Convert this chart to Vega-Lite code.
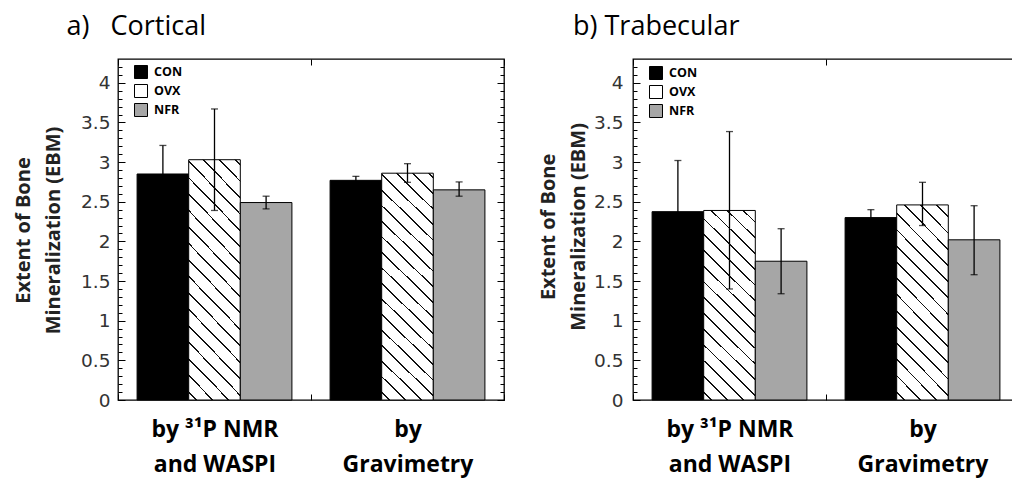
{
  "$schema": "https://vega.github.io/schema/vega-lite/v6.json",
  "autosize": {"type": "none"},
  "padding": {"left": 118, "top": 59, "right": 894, "bottom": 420},
  "bounds": "flush",
  "spacing": 129,
  "config": {
    "view": {"stroke": "#000", "strokeWidth": 1.3},
    "font": "Open Sans",
    "axis": {"grid": false, "domain": false}
  },
  "resolve": {"scale": {"fill": "independent", "x": "independent", "y": "independent", "xOffset": "independent"}, "legend": {"fill": "independent"}},
  "datasets": {
    "d": [
      {"panel": "a", "method": "by ³¹P NMR|and WASPI", "group": "CON", "value": 2.85, "lo": 2.49, "hi": 3.21},
      {"panel": "a", "method": "by ³¹P NMR|and WASPI", "group": "OVX", "value": 3.03, "lo": 2.39, "hi": 3.67},
      {"panel": "a", "method": "by ³¹P NMR|and WASPI", "group": "NFR", "value": 2.49, "lo": 2.41, "hi": 2.57},
      {"panel": "a", "method": "by|Gravimetry", "group": "CON", "value": 2.77, "lo": 2.72, "hi": 2.82},
      {"panel": "a", "method": "by|Gravimetry", "group": "OVX", "value": 2.86, "lo": 2.745, "hi": 2.98},
      {"panel": "a", "method": "by|Gravimetry", "group": "NFR", "value": 2.65, "lo": 2.57, "hi": 2.75},
      {"panel": "b", "method": "by ³¹P NMR|and WASPI", "group": "CON", "value": 2.375, "lo": 1.73, "hi": 3.02},
      {"panel": "b", "method": "by ³¹P NMR|and WASPI", "group": "OVX", "value": 2.39, "lo": 1.4, "hi": 3.385},
      {"panel": "b", "method": "by ³¹P NMR|and WASPI", "group": "NFR", "value": 1.75, "lo": 1.34, "hi": 2.16},
      {"panel": "b", "method": "by|Gravimetry", "group": "CON", "value": 2.3, "lo": 2.2, "hi": 2.4},
      {"panel": "b", "method": "by|Gravimetry", "group": "OVX", "value": 2.46, "lo": 2.2, "hi": 2.745},
      {"panel": "b", "method": "by|Gravimetry", "group": "NFR", "value": 2.02, "lo": 1.58, "hi": 2.45}
    ]
  },
  "hconcat": [
    {
      "width": 386,
      "height": 341,
      "title": {"text": "a)\u00a0\u00a0 Cortical", "anchor": "start", "frame": "group", "dx": -51.5, "fontSize": 27, "fontWeight": "normal", "font": "Open Sans", "color": "#000", "baseline": "alphabetic", "offset": -3},
      "data": {"name": "d"},
      "transform": [{"filter": "datum.panel === 'a'"}],
      "resolve": {"axis": {"x": "independent", "y": "independent"}},
      "layer": [
        {
          "mark": {"type": "bar", "stroke": "#000", "strokeWidth": 1},
          "encoding": {
            "x": {"field": "method", "type": "nominal", "sort": null, "scale": {"paddingInner": 0, "paddingOuter": 0},
              "axis": {"orient": "bottom", "title": null, "labelExpr": "split(datum.label, '|')", "labelAngle": 0, "labelFont": "Open Sans", "labelFontSize": 23, "labelFontWeight": "bold", "labelColor": "#000", "labelLineHeight": 35, "labelBaseline": "alphabetic", "labelPadding": 42, "tickBand": "extent", "tickSize": -6, "tickColor": "#000", "tickWidth": 1, "offset": 0}},
            "xOffset": {"field": "group", "type": "nominal", "sort": ["CON", "OVX", "NFR"], "scale": {"paddingInner": 0, "paddingOuter": 0.37}},
            "y": {"field": "value", "type": "quantitative", "scale": {"domain": [0, 4.3], "nice": false, "zero": true},
              "axis": {"orient": "left", "values": [0, 0.5, 1, 1.5, 2, 2.5, 3, 3.5, 4], "labelExpr": "'' + datum.value", "tickSize": -7, "tickColor": "#000", "tickWidth": 1, "labelFont": "DejaVu Sans", "labelFontSize": 18.5, "labelColor": "#333", "labelPadding": 15, "offset": 0,
                "title": ["Extent of Bone", "Mineralization (EBM)"], "titleFont": "Open Sans", "titleFontSize": 20, "titleFontWeight": "bold", "titleColor": "#222", "titleLineHeight": 30, "titleBaseline": "alphabetic", "titleAngle": -90, "titleAlign": "center", "titleX": -88.7, "titleY": 171}},
            "fill": {"field": "group", "type": "nominal",
              "condition": {"test": "datum.group === 'OVX'", "value": {"gradient": "linear", "x1": 0, "y1": 1, "x2": 0.2573, "y2": -0.1642, "stops": [
                  {"offset": 0, "color": "#fff"},
                  {"offset": 0.0249, "color": "#fff"}, {"offset": 0.0249, "color": "#111"}, {"offset": 0.0313, "color": "#111"}, {"offset": 0.0313, "color": "#fff"},
                  {"offset": 0.081, "color": "#fff"}, {"offset": 0.081, "color": "#111"}, {"offset": 0.0874, "color": "#111"}, {"offset": 0.0874, "color": "#fff"},
                  {"offset": 0.1372, "color": "#fff"}, {"offset": 0.1372, "color": "#111"}, {"offset": 0.1436, "color": "#111"}, {"offset": 0.1436, "color": "#fff"},
                  {"offset": 0.1933, "color": "#fff"}, {"offset": 0.1933, "color": "#111"}, {"offset": 0.1997, "color": "#111"}, {"offset": 0.1997, "color": "#fff"},
                  {"offset": 0.2494, "color": "#fff"}, {"offset": 0.2494, "color": "#111"}, {"offset": 0.2558, "color": "#111"}, {"offset": 0.2558, "color": "#fff"},
                  {"offset": 0.3056, "color": "#fff"}, {"offset": 0.3056, "color": "#111"}, {"offset": 0.312, "color": "#111"}, {"offset": 0.312, "color": "#fff"},
                  {"offset": 0.3617, "color": "#fff"}, {"offset": 0.3617, "color": "#111"}, {"offset": 0.3681, "color": "#111"}, {"offset": 0.3681, "color": "#fff"},
                  {"offset": 0.4179, "color": "#fff"}, {"offset": 0.4179, "color": "#111"}, {"offset": 0.4243, "color": "#111"}, {"offset": 0.4243, "color": "#fff"},
                  {"offset": 0.474, "color": "#fff"}, {"offset": 0.474, "color": "#111"}, {"offset": 0.4804, "color": "#111"}, {"offset": 0.4804, "color": "#fff"},
                  {"offset": 0.5301, "color": "#fff"}, {"offset": 0.5301, "color": "#111"}, {"offset": 0.5365, "color": "#111"}, {"offset": 0.5365, "color": "#fff"},
                  {"offset": 0.5863, "color": "#fff"}, {"offset": 0.5863, "color": "#111"}, {"offset": 0.5927, "color": "#111"}, {"offset": 0.5927, "color": "#fff"},
                  {"offset": 0.6424, "color": "#fff"}, {"offset": 0.6424, "color": "#111"}, {"offset": 0.6488, "color": "#111"}, {"offset": 0.6488, "color": "#fff"},
                  {"offset": 0.6986, "color": "#fff"}, {"offset": 0.6986, "color": "#111"}, {"offset": 0.705, "color": "#111"}, {"offset": 0.705, "color": "#fff"},
                  {"offset": 0.7547, "color": "#fff"}, {"offset": 0.7547, "color": "#111"}, {"offset": 0.7611, "color": "#111"}, {"offset": 0.7611, "color": "#fff"},
                  {"offset": 0.8108, "color": "#fff"}, {"offset": 0.8108, "color": "#111"}, {"offset": 0.8172, "color": "#111"}, {"offset": 0.8172, "color": "#fff"},
                  {"offset": 0.867, "color": "#fff"}, {"offset": 0.867, "color": "#111"}, {"offset": 0.8734, "color": "#111"}, {"offset": 0.8734, "color": "#fff"},
                  {"offset": 0.9231, "color": "#fff"}, {"offset": 0.9231, "color": "#111"}, {"offset": 0.9295, "color": "#111"}, {"offset": 0.9295, "color": "#fff"},
                  {"offset": 0.9793, "color": "#fff"}, {"offset": 0.9793, "color": "#111"}, {"offset": 0.9857, "color": "#111"}, {"offset": 0.9857, "color": "#fff"},
                  {"offset": 1, "color": "#fff"}
                ]}},
              "scale": {"domain": ["CON", "OVX", "NFR"], "range": ["#000", "#fff", "#a6a6a6"]},
              "legend": {"orient": "none", "legendX": 16, "legendY": 6, "title": null, "symbolType": "square", "symbolSize": 169, "symbolStrokeColor": "#000", "symbolStrokeWidth": 1, "labelFont": "Open Sans", "labelFontSize": 12.5, "labelFontWeight": "bold", "labelColor": "#000", "rowPadding": 1, "labelOffset": 6,
                "encode": {"symbols": {"update": {
                  "stroke": {"value": "#000"},
                  "strokeWidth": {"value": 1}
                }}}}}
          }
        },
        {
          "mark": {"type": "rule", "color": "#000", "strokeWidth": 1.3},
          "encoding": {
            "x": {"field": "method", "type": "nominal", "sort": null, "scale": {"paddingInner": 0, "paddingOuter": 0},
              "axis": {"orient": "top", "labels": false, "title": null, "tickBand": "extent", "tickSize": -6, "tickColor": "#000", "tickWidth": 1, "offset": 0}},
            "xOffset": {"field": "group", "type": "nominal", "sort": ["CON", "OVX", "NFR"], "scale": {"paddingInner": 0, "paddingOuter": 0.37}},
            "y": {"field": "lo", "type": "quantitative", "scale": {"domain": [0, 4.3], "nice": false},
              "axis": {"orient": "right", "values": [0, 0.5, 1, 1.5, 2, 2.5, 3, 3.5, 4], "labels": false, "title": null, "tickSize": -7, "tickColor": "#000", "tickWidth": 1, "offset": 0}},
            "y2": {"field": "hi"}
          }
        },
        {
          "mark": {"type": "tick", "color": "#000", "size": 7, "thickness": 1.3},
          "encoding": {
            "x": {"field": "method", "type": "nominal", "sort": null, "axis": null},
            "xOffset": {"field": "group", "type": "nominal", "sort": ["CON", "OVX", "NFR"]},
            "y": {"field": "lo", "type": "quantitative", "scale": {"domain": [0, 4.3], "nice": false},
              "axis": {"orient": "left", "values": [0, 0.1, 0.2, 0.3, 0.4, 0.5, 0.6, 0.7, 0.8, 0.9, 1, 1.1, 1.2, 1.3, 1.4, 1.5, 1.6, 1.7, 1.8, 1.9, 2, 2.1, 2.2, 2.3, 2.4, 2.5, 2.6, 2.7, 2.8, 2.9, 3, 3.1, 3.2, 3.3, 3.4, 3.5, 3.6, 3.7, 3.8, 3.9, 4, 4.1, 4.2], "labels": false, "title": null, "tickSize": -4, "tickColor": "#000", "tickWidth": 1, "offset": 0}}
          }
        },
        {
          "mark": {"type": "tick", "color": "#000", "size": 7, "thickness": 1.3},
          "encoding": {
            "x": {"field": "method", "type": "nominal", "sort": null, "axis": null},
            "xOffset": {"field": "group", "type": "nominal", "sort": ["CON", "OVX", "NFR"]},
            "y": {"field": "hi", "type": "quantitative", "scale": {"domain": [0, 4.3], "nice": false},
              "axis": {"orient": "right", "values": [0, 0.1, 0.2, 0.3, 0.4, 0.5, 0.6, 0.7, 0.8, 0.9, 1, 1.1, 1.2, 1.3, 1.4, 1.5, 1.6, 1.7, 1.8, 1.9, 2, 2.1, 2.2, 2.3, 2.4, 2.5, 2.6, 2.7, 2.8, 2.9, 3, 3.1, 3.2, 3.3, 3.4, 3.5, 3.6, 3.7, 3.8, 3.9, 4, 4.1, 4.2], "labels": false, "title": null, "tickSize": -4, "tickColor": "#000", "tickWidth": 1, "offset": 0}}
          }
        }
      ]
    },
    {
      "width": 386,
      "height": 341,
      "title": {"text": "b) Trabecular", "anchor": "start", "frame": "group", "dx": -60, "fontSize": 27, "fontWeight": "normal", "font": "Open Sans", "color": "#000", "baseline": "alphabetic", "offset": -3},
      "data": {"name": "d"},
      "transform": [{"filter": "datum.panel === 'b'"}],
      "resolve": {"axis": {"x": "independent", "y": "independent"}},
      "layer": [
        {
          "mark": {"type": "bar", "stroke": "#000", "strokeWidth": 1},
          "encoding": {
            "x": {"field": "method", "type": "nominal", "sort": null, "scale": {"paddingInner": 0, "paddingOuter": 0},
              "axis": {"orient": "bottom", "title": null, "labelExpr": "split(datum.label, '|')", "labelAngle": 0, "labelFont": "Open Sans", "labelFontSize": 23, "labelFontWeight": "bold", "labelColor": "#000", "labelLineHeight": 35, "labelBaseline": "alphabetic", "labelPadding": 42, "tickBand": "extent", "tickSize": -6, "tickColor": "#000", "tickWidth": 1, "offset": 0}},
            "xOffset": {"field": "group", "type": "nominal", "sort": ["CON", "OVX", "NFR"], "scale": {"paddingInner": 0, "paddingOuter": 0.37}},
            "y": {"field": "value", "type": "quantitative", "scale": {"domain": [0, 4.3], "nice": false, "zero": true},
              "axis": {"orient": "left", "values": [0, 0.5, 1, 1.5, 2, 2.5, 3, 3.5, 4], "labelExpr": "'' + datum.value", "tickSize": -7, "tickColor": "#000", "tickWidth": 1, "labelFont": "DejaVu Sans", "labelFontSize": 18.5, "labelColor": "#333", "labelPadding": 17, "offset": 0,
                "title": ["Extent of Bone", "Mineralization (EBM)"], "titleFont": "Open Sans", "titleFontSize": 20, "titleFontWeight": "bold", "titleColor": "#222", "titleLineHeight": 30, "titleBaseline": "alphabetic", "titleAngle": -90, "titleAlign": "center", "titleX": -78.3, "titleY": 167.4}},
            "fill": {"field": "group", "type": "nominal",
              "condition": {"test": "datum.group === 'OVX'", "value": {"gradient": "linear", "x1": 0, "y1": 1, "x2": 0.3173, "y2": -0.1831, "stops": [
                  {"offset": 0, "color": "#fff"},
                  {"offset": 0.0291, "color": "#fff"}, {"offset": 0.0291, "color": "#111"}, {"offset": 0.0365, "color": "#111"}, {"offset": 0.0365, "color": "#fff"},
                  {"offset": 0.0947, "color": "#fff"}, {"offset": 0.0947, "color": "#111"}, {"offset": 0.1021, "color": "#111"}, {"offset": 0.1021, "color": "#fff"},
                  {"offset": 0.1602, "color": "#fff"}, {"offset": 0.1602, "color": "#111"}, {"offset": 0.1676, "color": "#111"}, {"offset": 0.1676, "color": "#fff"},
                  {"offset": 0.2258, "color": "#fff"}, {"offset": 0.2258, "color": "#111"}, {"offset": 0.2332, "color": "#111"}, {"offset": 0.2332, "color": "#fff"},
                  {"offset": 0.2914, "color": "#fff"}, {"offset": 0.2914, "color": "#111"}, {"offset": 0.2988, "color": "#111"}, {"offset": 0.2988, "color": "#fff"},
                  {"offset": 0.3569, "color": "#fff"}, {"offset": 0.3569, "color": "#111"}, {"offset": 0.3643, "color": "#111"}, {"offset": 0.3643, "color": "#fff"},
                  {"offset": 0.4225, "color": "#fff"}, {"offset": 0.4225, "color": "#111"}, {"offset": 0.4299, "color": "#111"}, {"offset": 0.4299, "color": "#fff"},
                  {"offset": 0.4881, "color": "#fff"}, {"offset": 0.4881, "color": "#111"}, {"offset": 0.4955, "color": "#111"}, {"offset": 0.4955, "color": "#fff"},
                  {"offset": 0.5537, "color": "#fff"}, {"offset": 0.5537, "color": "#111"}, {"offset": 0.5611, "color": "#111"}, {"offset": 0.5611, "color": "#fff"},
                  {"offset": 0.6192, "color": "#fff"}, {"offset": 0.6192, "color": "#111"}, {"offset": 0.6266, "color": "#111"}, {"offset": 0.6266, "color": "#fff"},
                  {"offset": 0.6848, "color": "#fff"}, {"offset": 0.6848, "color": "#111"}, {"offset": 0.6922, "color": "#111"}, {"offset": 0.6922, "color": "#fff"},
                  {"offset": 0.7504, "color": "#fff"}, {"offset": 0.7504, "color": "#111"}, {"offset": 0.7578, "color": "#111"}, {"offset": 0.7578, "color": "#fff"},
                  {"offset": 0.8159, "color": "#fff"}, {"offset": 0.8159, "color": "#111"}, {"offset": 0.8233, "color": "#111"}, {"offset": 0.8233, "color": "#fff"},
                  {"offset": 0.8815, "color": "#fff"}, {"offset": 0.8815, "color": "#111"}, {"offset": 0.8889, "color": "#111"}, {"offset": 0.8889, "color": "#fff"},
                  {"offset": 0.9471, "color": "#fff"}, {"offset": 0.9471, "color": "#111"}, {"offset": 0.9545, "color": "#111"}, {"offset": 0.9545, "color": "#fff"},
                  {"offset": 1, "color": "#fff"}
                ]}},
              "scale": {"domain": ["CON", "OVX", "NFR"], "range": ["#000", "#fff", "#a6a6a6"]},
              "legend": {"orient": "none", "legendX": 16, "legendY": 7, "title": null, "symbolType": "square", "symbolSize": 169, "symbolStrokeColor": "#000", "symbolStrokeWidth": 1, "labelFont": "Open Sans", "labelFontSize": 12.5, "labelFontWeight": "bold", "labelColor": "#000", "rowPadding": 1, "labelOffset": 6,
                "encode": {"symbols": {"update": {
                  "stroke": {"value": "#000"},
                  "strokeWidth": {"value": 1}
                }}}}}
          }
        },
        {
          "mark": {"type": "rule", "color": "#000", "strokeWidth": 1.3},
          "encoding": {
            "x": {"field": "method", "type": "nominal", "sort": null, "scale": {"paddingInner": 0, "paddingOuter": 0},
              "axis": {"orient": "top", "labels": false, "title": null, "tickBand": "extent", "tickSize": -6, "tickColor": "#000", "tickWidth": 1, "offset": 0}},
            "xOffset": {"field": "group", "type": "nominal", "sort": ["CON", "OVX", "NFR"], "scale": {"paddingInner": 0, "paddingOuter": 0.37}},
            "y": {"field": "lo", "type": "quantitative", "scale": {"domain": [0, 4.3], "nice": false},
              "axis": {"orient": "right", "values": [0, 0.5, 1, 1.5, 2, 2.5, 3, 3.5, 4], "labels": false, "title": null, "tickSize": -7, "tickColor": "#000", "tickWidth": 1, "offset": 0}},
            "y2": {"field": "hi"}
          }
        },
        {
          "mark": {"type": "tick", "color": "#000", "size": 7, "thickness": 1.3},
          "encoding": {
            "x": {"field": "method", "type": "nominal", "sort": null, "axis": null},
            "xOffset": {"field": "group", "type": "nominal", "sort": ["CON", "OVX", "NFR"]},
            "y": {"field": "lo", "type": "quantitative", "scale": {"domain": [0, 4.3], "nice": false},
              "axis": {"orient": "left", "values": [0, 0.1, 0.2, 0.3, 0.4, 0.5, 0.6, 0.7, 0.8, 0.9, 1, 1.1, 1.2, 1.3, 1.4, 1.5, 1.6, 1.7, 1.8, 1.9, 2, 2.1, 2.2, 2.3, 2.4, 2.5, 2.6, 2.7, 2.8, 2.9, 3, 3.1, 3.2, 3.3, 3.4, 3.5, 3.6, 3.7, 3.8, 3.9, 4, 4.1, 4.2], "labels": false, "title": null, "tickSize": -4, "tickColor": "#000", "tickWidth": 1, "offset": 0}}
          }
        },
        {
          "mark": {"type": "tick", "color": "#000", "size": 7, "thickness": 1.3},
          "encoding": {
            "x": {"field": "method", "type": "nominal", "sort": null, "axis": null},
            "xOffset": {"field": "group", "type": "nominal", "sort": ["CON", "OVX", "NFR"]},
            "y": {"field": "hi", "type": "quantitative", "scale": {"domain": [0, 4.3], "nice": false},
              "axis": {"orient": "right", "values": [0, 0.1, 0.2, 0.3, 0.4, 0.5, 0.6, 0.7, 0.8, 0.9, 1, 1.1, 1.2, 1.3, 1.4, 1.5, 1.6, 1.7, 1.8, 1.9, 2, 2.1, 2.2, 2.3, 2.4, 2.5, 2.6, 2.7, 2.8, 2.9, 3, 3.1, 3.2, 3.3, 3.4, 3.5, 3.6, 3.7, 3.8, 3.9, 4, 4.1, 4.2], "labels": false, "title": null, "tickSize": -4, "tickColor": "#000", "tickWidth": 1, "offset": 0}}
          }
        }
      ]
    }
  ]
}
